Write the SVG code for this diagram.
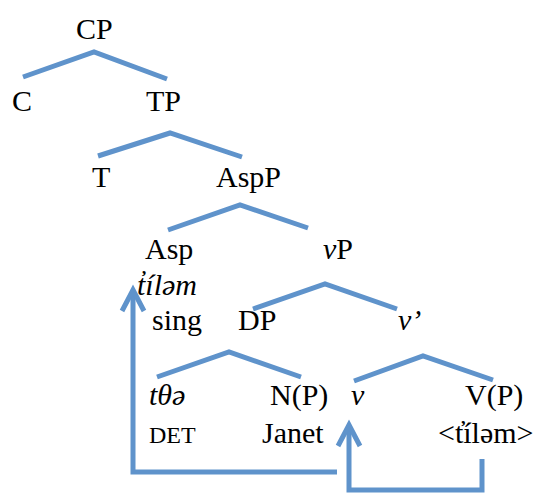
<svg xmlns="http://www.w3.org/2000/svg" width="543" height="495" viewBox="0 0 543 495">
<defs>
<style>
text{font-family:"Liberation Serif","Times New Roman",serif;font-size:30px;fill:#000}
.i{font-style:italic}
.sc{font-size:24px}
.br{fill:none;stroke:#5f93cb;stroke-width:5}
.ar{fill:none;stroke:#5f93cb;stroke-width:5;marker-end:url(#head)}
</style>
<marker id="head" markerUnits="userSpaceOnUse" orient="auto" refX="0" refY="0" markerWidth="30" markerHeight="30" viewBox="-25 -15 30 30" overflow="visible">
<path d="M-21,-11 L0,0 L-21,11" fill="none" stroke="#5f93cb" stroke-width="5"/>
</marker>
</defs>
<rect width="543" height="495" fill="#fff"/>
<g id="connectors">
<polyline class="br" points="23,77 94,52 167,79"/>
<polyline class="br" points="98,156 170,133 242,157"/>
<polyline class="br" points="168,230 240,205 308,228"/>
<polyline class="br" points="253,309 325,284 397,309"/>
<polyline class="br" points="157,377 229,352 301,377"/>
<polyline class="br" points="354,381 423,356 493,380"/>
<polyline class="ar" points="337,472 133,472 133,290"/>
<polyline class="ar" points="482,459 482,490 349,490 349,425"/>
</g>
<g id="CP"><text x="76" y="39">CP</text></g>
<g id="C"><text x="12" y="111">C</text></g>
<g id="TP"><text x="146" y="111">TP</text></g>
<g id="T"><text x="92" y="187">T</text></g>
<g id="AspP"><text x="216" y="187">AspP</text></g>
<g id="Asp"><text x="145" y="259">Asp</text><text class="i" x="137" y="295">t̓íləm</text><text x="152" y="330">sing</text></g>
<g id="vP"><text x="323" y="259"><tspan class="i">v</tspan>P</text></g>
<g id="DP"><text x="238" y="330">DP</text></g>
<g id="vbar"><text class="i" x="398" y="330">v’</text></g>
<g id="D"><text class="i" x="149" y="405">tθə</text><text class="sc" x="149" y="443">DET</text></g>
<g id="NP"><text x="270" y="405">N(P)</text><text x="262" y="443">Janet</text></g>
<g id="v"><text class="i" x="351" y="405">v</text></g>
<g id="VP"><text x="465" y="405">V(P)</text><text x="438" y="443">&lt;t̓íləm&gt;</text></g>
</svg>
